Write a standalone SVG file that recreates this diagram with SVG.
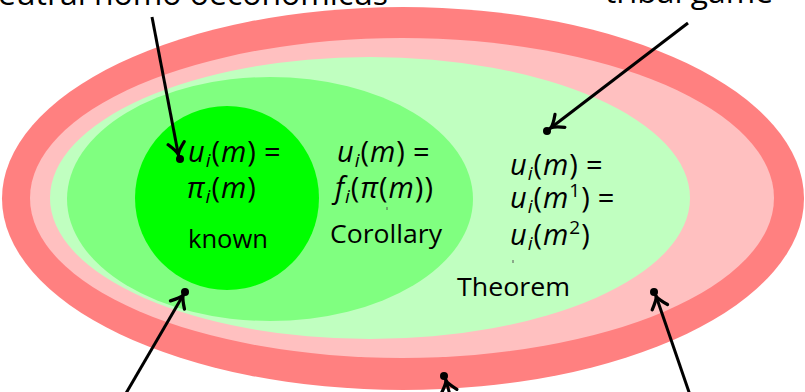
<svg xmlns="http://www.w3.org/2000/svg" width="805" height="392" viewBox="0 0 805 392">
<defs>
<style>
.lbl{font-family:"Open Sans","Liberation Sans",sans-serif;fill:#000}
.big{font-size:31px}
.txt{font-size:26px}
.math{font-family:"Open Sans","Liberation Sans",sans-serif;font-size:29px;font-style:italic;fill:#000;letter-spacing:1px}
.up{font-style:normal}
.sub{font-size:19px}
.conn{stroke:#000;stroke-width:3;fill:none}
.tick{stroke:#555;stroke-width:1}
</style>
<marker id="arr" markerUnits="userSpaceOnUse" markerWidth="20" markerHeight="20" refX="0" refY="0" viewBox="-13 -8 15 16" orient="auto">
<path d="M -12 -6.5 Q -6 -1 -3 0 Q -6 1 -12 6.5" stroke="#000" stroke-width="2.6" fill="none" stroke-linecap="round"/>
</marker>
</defs>
<g id="outer"><ellipse cx="403" cy="198.5" rx="401" ry="191.5" fill="#ff8080"/></g>
<g id="pink"><ellipse cx="402" cy="198" rx="372" ry="160" fill="#ffc0c0"/></g>
<g id="lightgreen"><ellipse cx="370" cy="198" rx="320" ry="141" fill="#c0ffc0"/>
<text class="math" x="510" y="175">u<tspan class="sub" dy="5">i</tspan><tspan class="up" dy="-5">(</tspan>m<tspan class="up">)</tspan><tspan class="up" dx="7">=</tspan></text>
<text class="math" x="510" y="208">u<tspan class="sub" dy="5">i</tspan><tspan class="up" dy="-5">(</tspan>m<tspan class="up sub" dy="-11">1</tspan><tspan class="up" dy="11">)</tspan><tspan class="up" dx="7">=</tspan></text>
<text class="math" x="510" y="245">u<tspan class="sub" dy="5">i</tspan><tspan class="up" dy="-5">(</tspan>m<tspan class="up sub" dy="-11">2</tspan><tspan class="up" dy="11">)</tspan></text>
<text class="lbl txt" x="457" y="296" textLength="113" lengthAdjust="spacingAndGlyphs">Theorem</text>
<line class="tick" x1="513" y1="260" x2="513" y2="263"/>
</g>
<g id="midgreen"><ellipse cx="270" cy="199" rx="203" ry="122" fill="#80ff80"/>
<text class="math" x="337" y="162">u<tspan class="sub" dy="5">i</tspan><tspan class="up" dy="-5">(</tspan>m<tspan class="up">)</tspan><tspan class="up" dx="7">=</tspan></text>
<text class="math" x="335" y="198">f<tspan class="sub" dy="5">i</tspan><tspan class="up" dy="-5">(</tspan>π<tspan class="up">(</tspan>m<tspan class="up">))</tspan></text>
<text class="lbl txt" x="330" y="243" textLength="112" lengthAdjust="spacingAndGlyphs">Corollary</text>
<line class="tick" x1="387" y1="207" x2="387" y2="210"/>
</g>
<g id="known"><circle cx="227" cy="198" r="92" fill="#00ff00"/>
<text class="math" x="188" y="162">u<tspan class="sub" dy="5">i</tspan><tspan class="up" dy="-5">(</tspan>m<tspan class="up">)</tspan><tspan class="up" dx="7">=</tspan></text>
<text class="math" x="187" y="198">π<tspan class="sub" dy="5">i</tspan><tspan class="up" dy="-5">(</tspan>m<tspan class="up">)</tspan></text>
<text class="lbl txt" x="188" y="248" textLength="80" lengthAdjust="spacingAndGlyphs">known</text>
</g>
<g id="label-neutral"><text class="lbl big" x="-2" y="5" textLength="390" lengthAdjust="spacingAndGlyphs">eutral homo oeconomicus</text></g>
<g id="label-tribal"><text class="lbl big" x="605" y="3" textLength="168" lengthAdjust="spacingAndGlyphs">tribal game</text></g>
<g id="connectors">
<line class="conn" x1="152" y1="17" x2="179" y2="158" marker-end="url(#arr)"/>
<circle cx="180" cy="159" r="4"/>
<line class="conn" x1="688" y1="23" x2="548" y2="130" marker-end="url(#arr)"/>
<circle cx="547" cy="131" r="4"/>
<line class="conn" x1="125" y1="395" x2="185" y2="292" marker-end="url(#arr)"/>
<circle cx="185" cy="292" r="4"/>
<line class="conn" x1="690" y1="395" x2="655" y2="293" marker-end="url(#arr)"/>
<circle cx="654" cy="292" r="4"/>
<line class="conn" x1="450" y1="395" x2="445" y2="377" marker-end="url(#arr)"/>
<circle cx="444" cy="376" r="4"/>
</g>
</svg>
